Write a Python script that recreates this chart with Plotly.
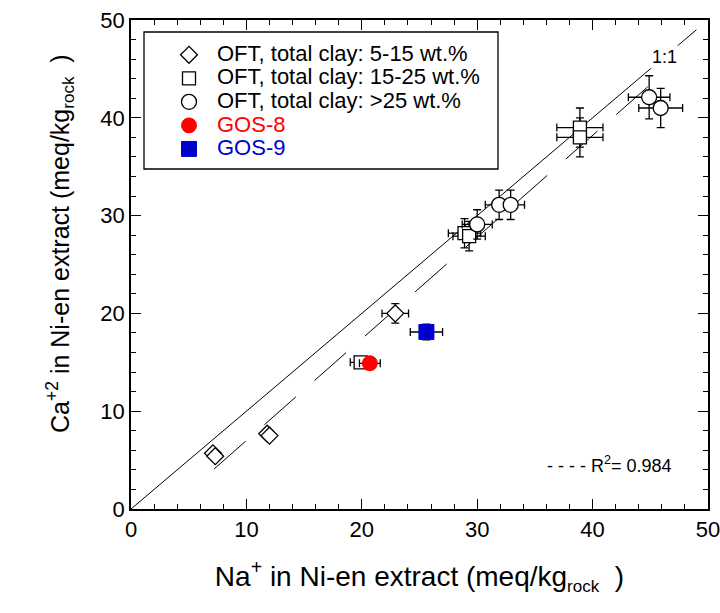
import plotly.graph_objects as go

# OFT, total clay 5-15 wt.% (diamonds)
d_x = [7.1, 7.3, 11.8, 12.0, 22.9]
d_y = [5.7, 5.4, 7.7, 7.5, 20.0]
d_ex = [0.0, 0.0, 0.0, 0.0, 1.15]
d_ey = [0.0, 0.0, 0.0, 0.0, 1.0]
# OFT, total clay 15-25 wt.% (squares)
s_x = [19.9, 28.9, 29.3, 38.9, 38.9]
s_y = [15.0, 28.2, 27.9, 39.0, 38.0]
s_ex = [0.9, 1.4, 1.4, 2.0, 2.0]
s_ey = [0.4, 1.5, 1.5, 2.0, 2.0]
# OFT, total clay >25 wt.% (circles)
c_x = [30.0, 31.9, 32.9, 44.9, 45.9]
c_y = [29.1, 31.1, 31.1, 42.1, 41.0]
c_ex = [1.3, 1.2, 1.2, 1.8, 1.9]
c_ey = [1.5, 1.5, 1.5, 2.2, 2.0]
# GOS samples
g8_x, g8_y, g8_ex, g8_ey = [20.7], [14.9], [0.9], [0.5]
g9_x, g9_y, g9_ex, g9_ey = [25.6], [18.1], [1.4], [0.8]
# reference lines
one_x = [0, 49]
reg_x = [7.2, 45.5]
reg_slope, reg_icpt = 1.04, -3.4
r2_label = "0.984"

FONT = "Liberation Sans"

def eb(arr):
    return dict(type="data", array=arr, visible=True, color="black",
                thickness=1.3, width=4)

def leg(txt, color=None):
    style = "font-size:22px"
    if color:
        style += ";fill:" + color
    return '<span style="%s">%s</span>' % (style, txt)

fig = go.Figure()
fig.add_trace(go.Scatter(x=one_x, y=one_x, mode="lines",
                         line=dict(color="black", width=1), showlegend=False,
                         hoverinfo="skip"))
fig.add_trace(go.Scatter(x=reg_x, y=[reg_slope * v + reg_icpt for v in reg_x],
                         mode="lines", line=dict(color="black", width=1, dash="42px,25px"),
                         showlegend=False, hoverinfo="skip"))

fig.add_trace(go.Scatter(x=d_x, y=d_y, mode="markers", name=leg("OFT, total clay: 5-15 wt.%"),
                         error_x=eb(d_ex), error_y=eb(d_ey),
                         marker=dict(symbol="diamond", size=13, color="white",
                                     line=dict(color="black", width=1.3))))
fig.add_trace(go.Scatter(x=s_x, y=s_y, mode="markers", name=leg("OFT, total clay: 15-25 wt.%"),
                         error_x=eb(s_ex), error_y=eb(s_ey),
                         marker=dict(symbol="square", size=13, color="white",
                                     line=dict(color="black", width=1.3))))
fig.add_trace(go.Scatter(x=c_x, y=c_y, mode="markers", name=leg("OFT, total clay: >25 wt.%"),
                         error_x=eb(c_ex), error_y=eb(c_ey),
                         marker=dict(symbol="circle", size=15, color="white",
                                     line=dict(color="black", width=1.3))))
fig.add_trace(go.Scatter(x=g8_x, y=g8_y, mode="markers",
                         name=leg("GOS-8", "#ff0000"),
                         error_x=eb(g8_ex), error_y=eb(g8_ey),
                         marker=dict(symbol="circle", size=15, color="#ff0000",
                                     line=dict(color="#ff0000", width=1))))
fig.add_trace(go.Scatter(x=g9_x, y=g9_y, mode="markers",
                         name=leg("GOS-9", "#0000cc"),
                         error_x=eb(g9_ex), error_y=eb(g9_ey),
                         marker=dict(symbol="square", size=15, color="#0000cc",
                                     line=dict(color="#0000cc", width=1))))

fig.add_annotation(x=46.2, y=46.2, text="1:1", showarrow=False,
                   font=dict(family=FONT, size=18, color="black"), bgcolor="white")
fig.add_annotation(x=41.5, y=4.5, text="- - - - R<sup>2</sup>= " + r2_label, showarrow=False,
                   font=dict(family=FONT, size=18, color="black"))

# legend frame
fig.add_shape(type="rect", xref="paper", yref="paper",
              x0=(144 - 131) / 577, x1=(498 - 131) / 577,
              y0=(509 - 169) / 489, y1=(509 - 32) / 489,
              line=dict(color="black", width=1.3), fillcolor="rgba(0,0,0,0)")

axis_common = dict(range=[0, 50], tickmode="linear", tick0=0, dtick=10,
                   ticks="inside", ticklen=10, tickwidth=1.2, tickcolor="black",
                   showline=True, linecolor="black", linewidth=1.5, mirror="allticks",
                   showgrid=False, zeroline=False, automargin=False,
                   ticklabeloverflow="allow",
                   tickfont=dict(family=FONT, size=22, color="black"),
                   minor=dict(ticks="inside", ticklen=5, tickwidth=1.2, dtick=2,
                              tickcolor="black", showgrid=False))

sub_rock = '<sub><span style="font-size:17px">rock</span></sub>'
pad = "&nbsp;" * 6

fig.update_layout(
    width=720, height=613,
    margin=dict(l=131, r=12, t=20, b=104, autoexpand=False),
    paper_bgcolor="white", plot_bgcolor="white",
    font=dict(family=FONT, color="black"),
    xaxis=dict(**axis_common,
               title=dict(text="Na<sup>+</sup> in Ni-en extract (meq/kg" + sub_rock + "  )",
                          font=dict(family=FONT, size=28), standoff=25)),
    yaxis=dict(**axis_common,
               title=dict(text=pad + "Ca<sup>+2</sup> in Ni-en extract (meq/kg" + sub_rock + "  )",
                          font=dict(family=FONT, size=25), standoff=24)),
    legend=dict(x=(161 - 131) / 577, y=(509 - 38) / 489, xanchor="left", yanchor="top",
                bgcolor="rgba(0,0,0,0)", borderwidth=0, itemwidth=46,
                font=dict(family=FONT, size=15.8, color="black"), tracegroupgap=0),
    showlegend=True,
)

fig.write_html("out.html", config={"displayModeBar": False},
               post_script="document.body.style.margin='0';document.body.style.overflow='hidden';")
